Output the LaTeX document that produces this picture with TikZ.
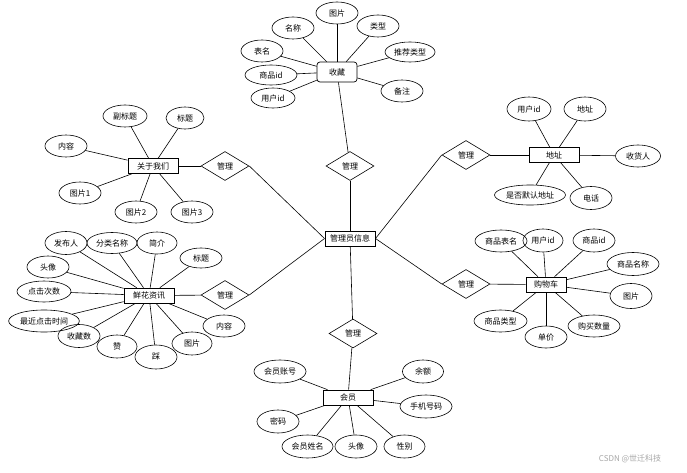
\documentclass[tikz,border=0pt]{standalone}
\usepackage{fontspec}
\setmainfont{Noto Sans CJK SC}
\usetikzlibrary{shapes.geometric}

\begin{document}
\begin{tikzpicture}[
  x=1pt, y=-1pt,
  entity/.style={rectangle, draw, line width=0.7pt, minimum width=50pt, minimum height=15pt, inner sep=0pt, font=\fontsize{8}{9}\selectfont},
  attr/.style={ellipse, draw, line width=0.6pt, minimum width=42pt, minimum height=22pt, inner xsep=1pt, inner ysep=0pt, font=\fontsize{8}{9}\selectfont},
  rel/.style={diamond, draw, line width=0.6pt, minimum width=48pt, minimum height=29pt, inner sep=0pt, aspect=1.6, font=\fontsize{8}{9}\selectfont},
  link/.style={draw, line width=0.6pt}
]
\useasboundingbox (0,0) rectangle (687,473);

% Centre entity and its relations
\node[entity, line width=1pt] (admin) at (350,238.5) {管理员信息};
\node[rel] (r1) at (350,166) {管理};
\node[rel] (r2) at (225,166) {管理};
\node[rel] (r3) at (466,155) {管理};
\node[rel] (r4) at (225,295) {管理};
\node[rel] (r5) at (466,284) {管理};
\node[rel] (r6) at (353,333.5) {管理};

% Entities
\node[entity, rounded corners=3pt, minimum width=40pt, minimum height=20pt] (fav) at (337,72) {收藏};
\node[entity] (about) at (153,166) {关于我们};
\node[entity] (addr) at (554,155) {地址};
\node[entity] (news) at (149,295.5) {鲜花资讯};
\node[entity, minimum width=40pt] (cart) at (546,284.5) {购物车};
\node[entity] (member) at (348,397.5) {会员};

% Relation links
\draw[link] (admin) -- (r1);
\draw[link] (r1) -- (fav);
\draw[link] (admin.west) -- (r2.east);
\draw[link] (r2) -- (about);
\draw[link] (admin.east) -- (r3.west);
\draw[link] (r3) -- (addr);
\draw[link] (admin.west) -- (r4.east);
\draw[link] (r4) -- (news);
\draw[link] (admin.east) -- (r5.west);
\draw[link] (r5) -- (cart);
\draw[link] (admin) -- (r6);
\draw[link] (r6) -- (member);

% Attributes of 收藏
\node[attr] (f1) at (337,13) {图片};
\node[attr] (f2) at (293,28) {名称};
\node[attr] (f3) at (378,26) {类型};
\node[attr] (f4) at (262,51) {表名};
\node[attr, minimum width=50pt, minimum height=20pt] (f5) at (410,52) {推荐类型};
\node[attr, minimum width=52pt, minimum height=20pt] (f6) at (271,75) {商品id};
\node[attr, minimum width=44pt, minimum height=20pt] (f7) at (273,98) {用户id};
\node[attr] (f8) at (402,91) {备注};
\draw[link] (fav) -- (f1);
\draw[link] (fav) -- (f2);
\draw[link] (fav) -- (f3);
\draw[link] (fav) -- (f4);
\draw[link] (fav) -- (f5);
\draw[link] (fav) -- (f6);
\draw[link] (fav) -- (f7);
\draw[link] (fav) -- (f8);

% Attributes of 关于我们
\node[attr, minimum width=44pt] (b1) at (125,116) {副标题};
\node[attr, minimum width=38pt] (b2) at (185,118) {标题};
\node[attr] (b3) at (66,146) {内容};
\node[attr] (b4) at (80,193) {图片1};
\node[attr] (b5) at (136,212) {图片2};
\node[attr] (b6) at (192,212) {图片3};
\draw[link] (about) -- (b1);
\draw[link] (about) -- (b2);
\draw[link] (about) -- (b3);
\draw[link] (about) -- (b4);
\draw[link] (about) -- (b5);
\draw[link] (about) -- (b6);

% Attributes of 地址
\node[attr, minimum width=44pt, minimum height=24pt] (d1) at (529,109) {用户id};
\node[attr, minimum height=24pt] (d2) at (585,109) {地址};
\node[attr, minimum width=45pt] (d3) at (638,156) {收货人};
\node[attr, minimum width=71pt, minimum height=20pt] (d4) at (530,195) {是否默认地址};
\node[attr, minimum height=23pt] (d5) at (591,198) {电话};
\draw[link] (addr) -- (d1);
\draw[link] (addr) -- (d2);
\draw[link] (addr) -- (d3);
\draw[link] (addr) -- (d4);
\draw[link] (addr) -- (d5);

% Attributes of 鲜花资讯
\node[attr, minimum height=23pt] (n1) at (66,243) {发布人};
\node[attr, minimum width=50pt, minimum height=21pt] (n2) at (112,243) {分类名称};
\node[attr, minimum width=40pt] (n3) at (157,243) {简介};
\node[attr, minimum height=20pt] (n4) at (201,258) {标题};
\node[attr] (n5) at (48,267) {头像};
\node[attr, minimum width=54pt, minimum height=21pt] (n6) at (44,291.5) {点击次数};
\node[attr, minimum width=68pt] (n7) at (44,321) {最近点击时间};
\node[attr, minimum height=23pt] (n8) at (79,336) {收藏数};
\node[attr, minimum width=40pt, minimum height=23pt] (n9) at (117,346.5) {赞};
\node[attr, minimum height=24pt] (n10) at (156,357) {踩};
\node[attr, minimum width=40pt, minimum height=23pt] (n11) at (192,343.5) {图片};
\node[attr] (n12) at (224,326) {内容};
\draw[link] (news) -- (n1);
\draw[link] (news) -- (n2);
\draw[link] (news) -- (n3);
\draw[link] (news) -- (n4);
\draw[link] (news) -- (n5);
\draw[link] (news) -- (n6);
\draw[link] (news) -- (n7);
\draw[link] (news) -- (n8);
\draw[link] (news) -- (n9);
\draw[link] (news) -- (n10);
\draw[link] (news) -- (n11);
\draw[link] (news) -- (n12);

% Attributes of 购物车
\node[attr, minimum width=52pt] (c1) at (501,241) {商品表名};
\node[attr, minimum width=40pt, minimum height=23pt] (c2) at (543,240.5) {用户id};
\node[attr, minimum height=23pt] (c3) at (594,240.5) {商品id};
\node[attr, minimum width=52pt, minimum height=23pt] (c4) at (633,264) {商品名称};
\node[attr, minimum height=25pt] (c5) at (631,296) {图片};
\node[attr, minimum width=52pt] (c6) at (594,326) {购买数量};
\node[attr] (c7) at (546,337) {单价};
\node[attr, minimum width=53pt] (c8) at (500.5,321) {商品类型};
\draw[link] (cart) -- (c1);
\draw[link] (cart) -- (c2);
\draw[link] (cart) -- (c3);
\draw[link] (cart) -- (c4);
\draw[link] (cart) -- (c5);
\draw[link] (cart) -- (c6);
\draw[link] (cart) -- (c7);
\draw[link] (cart) -- (c8);

% Attributes of 会员
\node[attr, minimum width=52pt, minimum height=23pt] (m1) at (280,371.5) {会员账号};
\node[attr, minimum width=41pt, minimum height=23pt] (m2) at (423,371.5) {余额};
\node[attr, minimum width=52pt, minimum height=23pt] (m3) at (426,406.5) {手机号码};
\node[attr, minimum height=23pt] (m4) at (278,421.5) {密码};
\node[attr, minimum width=51pt, minimum height=23pt] (m5) at (307.5,446.5) {会员姓名};
\node[attr, minimum height=23pt] (m6) at (356,446.5) {头像};
\node[attr, minimum width=41pt, minimum height=23pt] (m7) at (404.5,446.5) {性别};
\draw[link] (member) -- (m1);
\draw[link] (member) -- (m2);
\draw[link] (member) -- (m3);
\draw[link] (member) -- (m4);
\draw[link] (member) -- (m5);
\draw[link] (member) -- (m6);
\draw[link] (member) -- (m7);

% Watermark
\node[font=\fontsize{8}{9}\selectfont, text=black!35] (mark) at (630,459) {CSDN @世迁科技};

\end{tikzpicture}
\end{document}
